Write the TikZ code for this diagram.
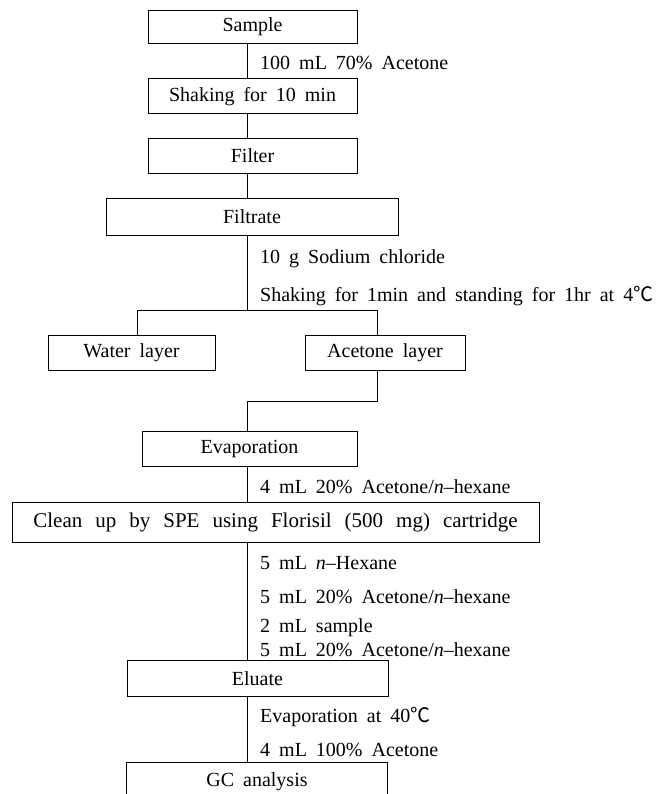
\documentclass[tikz,border=0pt]{standalone}
\usepackage{fontspec}
\setmainfont[WordSpace=1.8]{Liberation Serif}
\newfontfamily\cjk{Noto Sans CJK KR}
\newcommand{\degc}{{\cjk ℃}}
\newcommand{\widesp}{\spaceskip=13pt\relax}
\begin{document}
\begin{tikzpicture}[x=1pt,y=-1pt,
  every node/.style={font=\fontsize{20}{22}\selectfont, inner sep=0pt},
  box/.style={draw, line width=0.8pt, fill=white},
  lbl/.style={anchor=base west},
  conn/.style={line width=0.8pt}]
\useasboundingbox (0,0) rectangle (669,794);
\clip (0,0) rectangle (669,794);
\fill[white] (0,0) rectangle (669,794);
\coordinate (ax) at (247.5,0);
% boxes
\node[box, minimum width=209pt, minimum height=33pt] (sample) at (252.5,26.8) {Sample};
\node[box, minimum width=209pt, minimum height=35pt] (shake) at (252.5,96.2) {Shaking for 10 min};
\node[box, minimum width=209pt, minimum height=34.6pt] (filter) at (252.5,156) {Filter};
\node[box, minimum width=292pt, minimum height=36.7pt] (filtrate) at (252,216.7) {Filtrate};
\node[box, minimum width=167pt, minimum height=35.4pt] (water) at (131.5,353) {Water layer};
\node[box, minimum width=160pt, minimum height=35.4pt] (acet) at (385,353) {Acetone layer};
\node[box, minimum width=215pt, minimum height=35pt] (evap) at (249.5,449.2) {Evaporation};
\node[box, minimum width=527pt, minimum height=40pt, font=\fontsize{21}{23}\selectfont] (clean) at (275.5,522.3) {\widesp Clean up by SPE using Florisil (500 mg) cartridge};
\node[box, minimum width=261pt, minimum height=35.3pt] (eluate) at (257.5,678.3) {Eluate};
\node[box, minimum width=260.5pt, minimum height=38pt] (gc) at (257,781.7) {GC analysis};
% labels
\node[lbl] (l1) at (260,69.5) {100 mL 70\% Acetone};
\node[lbl] (l2) at (260,263.5) {10 g Sodium chloride};
\node[lbl] (l3) at (260,301) {Shaking for 1min and standing for 1hr at 4\degc};
\node[lbl] (l4) at (260,493.5) {4 mL 20\% Acetone/\textit{n}--hexane};
\node[lbl] (l5) at (260,569) {5 mL \textit{n}--Hexane};
\node[lbl] (l6) at (260,603) {5 mL 20\% Acetone/\textit{n}--hexane};
\node[lbl] (l7) at (260,632) {2 mL sample};
\node[lbl] (l8) at (260,656) {5 mL 20\% Acetone/\textit{n}--hexane};
\node[lbl] (l9) at (260,722.5) {Evaporation at 40\degc};
\node[lbl] (l10) at (260,756) {4 mL 100\% Acetone};
% connector coordinates
\coordinate (bj) at (247.5,310);
\coordinate (bl) at (137.4,310);
\coordinate (brr) at (377,310);
\coordinate (jog) at (247.5,401.7);
% connectors
\draw[conn] (sample.south -| ax) -- (shake.north -| ax);
\draw[conn] (shake.south -| ax) -- (filter.north -| ax);
\draw[conn] (filter.south -| ax) -- (filtrate.north -| ax);
\draw[conn] (filtrate.south -| ax) -- (bj);
\draw[conn] (bl) -- (brr);
\draw[conn] (bl) -- (bl |- water.north);
\draw[conn] (brr) -- (brr |- acet.north);
\draw[conn] (acet.south -| brr) |- (jog) -- (evap.north -| ax);
\draw[conn] (evap.south -| ax) -- (clean.north -| ax);
\draw[conn] (clean.south -| ax) -- (eluate.north -| ax);
\draw[conn] (eluate.south -| ax) -- (gc.north -| ax);
\end{tikzpicture}
\end{document}
